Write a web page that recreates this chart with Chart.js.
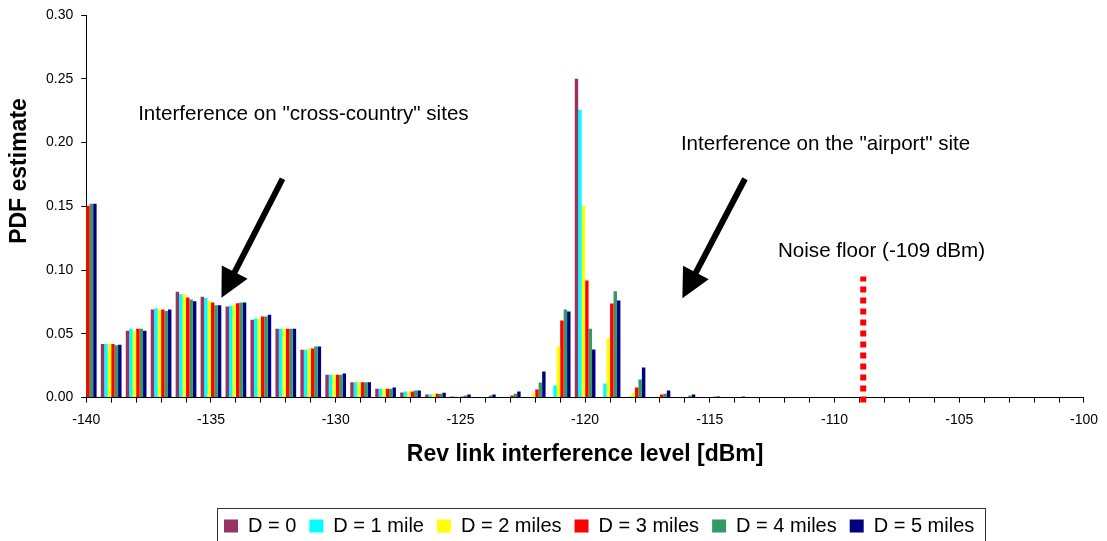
<!DOCTYPE html>
<html>
<head>
<meta charset="utf-8">
<script src="https://cdn.jsdelivr.net/npm/chart.js@4/dist/chart.umd.min.js"></script>
<style>
  html, body { margin: 0; padding: 0; background: #fff; }
</style>
</head>
<body>
<canvas id="pdf-chart" width="1107" height="541"></canvas>
<script>
// interference level bins [dBm]
var levels = [-140, -139, -138, -137, -136, -135, -134, -133, -132, -131,
              -130, -129, -128, -127, -126, -125, -124, -123, -122, -121,
              -120, -119, -118, -117, -116, -115, -114, -113, -112, -111,
              -110, -109, -108, -107, -106, -105, -104, -103, -102, -101, -100];

var seriesNames = ["D = 0", "D = 1 mile", "D = 2 miles", "D = 3 miles", "D = 4 miles", "D = 5 miles"];
var seriesColors = ["#993366", "#00FFFF", "#FFFF00", "#FF0000", "#339966", "#000080"];

// PDF estimate per bin, one array per distance
var pdfD0 = [0.149, 0.042, 0.0525, 0.069, 0.083, 0.079, 0.0715, 0.061, 0.054, 0.0375,
             0.018, 0.012, 0.007, 0.004, 0.0024, 0.0008, 0, 0, 0, 0,
             0.250, 0, 0, 0, 0, 0, 0, 0, 0, 0, 0, 0, 0, 0, 0, 0, 0, 0, 0, 0, 0];
var pdfD1 = [0.150, 0.042, 0.054, 0.070, 0.081, 0.078, 0.072, 0.062, 0.054, 0.0375,
             0.018, 0.012, 0.007, 0.0047, 0.0024, 0.0008, 0, 0, 0, 0.0094,
             0.2257, 0.011, 0.0008, 0, 0, 0, 0, 0, 0, 0, 0, 0, 0, 0, 0, 0, 0, 0, 0, 0, 0];
var pdfD2 = [0.150, 0.042, 0.0525, 0.069, 0.081, 0.076, 0.073, 0.062, 0.054, 0.0385,
             0.018, 0.012, 0.007, 0.0047, 0.0031, 0.0005, 0, 0.0008, 0.0031, 0.040,
             0.1505, 0.0466, 0.0039, 0.0008, 0, 0, 0, 0, 0, 0, 0, 0, 0, 0, 0, 0, 0, 0, 0, 0, 0];
var pdfD3 = [0.1505, 0.042, 0.054, 0.069, 0.0785, 0.0745, 0.074, 0.0635, 0.054, 0.0385,
             0.018, 0.012, 0.007, 0.0047, 0.0031, 0.0008, 0, 0.0016, 0.0063, 0.0605,
             0.0918, 0.0738, 0.0079, 0.0024, 0, 0, 0, 0, 0, 0, 0, 0, 0, 0, 0, 0, 0, 0, 0, 0, 0];
var pdfD4 = [0.152, 0.041, 0.054, 0.068, 0.077, 0.0725, 0.0745, 0.0635, 0.054, 0.040,
             0.018, 0.012, 0.007, 0.0055, 0.0031, 0.0016, 0.0016, 0.0031, 0.0118, 0.069,
             0.054, 0.0833, 0.0141, 0.0031, 0.0016, 0.0008, 0, 0, 0, 0, 0, 0, 0, 0, 0, 0, 0, 0, 0, 0, 0];
var pdfD5 = [0.152, 0.0415, 0.0525, 0.069, 0.0755, 0.0725, 0.0745, 0.065, 0.054, 0.040,
             0.0188, 0.012, 0.008, 0.0055, 0.0039, 0.0024, 0.0024, 0.0047, 0.0204, 0.0675,
             0.0377, 0.0762, 0.0236, 0.0055, 0.0024, 0.0008, 0.0008, 0, 0, 0, 0, 0, 0, 0, 0, 0, 0, 0, 0, 0, 0];
var pdfSeries = [pdfD0, pdfD1, pdfD2, pdfD3, pdfD4, pdfD5];

// noise floor marker (drawn slightly right of the -109 tick, as in the original)
var noiseMarkX = -108.85;
var noiseMarkTop = 0.095;

// text notes (left x in dBm, baseline in PDF units)
var noteTexts = ['Interference on "cross-country" sites', 'Interference on the "airport" site', 'Noise floor (-109 dBm)'];
var noteX = [-137.92, -116.16, -112.27];
var noteY = [0.2178, 0.194, 0.110];

// arrows: tail -> tip
var arrowTailX = [-132.13, -113.59];
var arrowTailY = [0.1716, 0.1716];
var arrowTipX = [-134.58, -116.10];
var arrowTipY = [0.0782, 0.0779];

var yTitle = 'PDF estimate';
var fontFamily = 'Arial, "Liberation Sans", sans-serif';

document.addEventListener('DOMContentLoaded', function() {
  pdfChart();
});

function drawArrow(ctx, x1, y1, x2, y2) {
  var dx = x2 - x1, dy = y2 - y1;
  var len = Math.sqrt(dx * dx + dy * dy);
  var ux = dx / len, uy = dy / len;
  var headLen = 29, headHalf = 14.5;
  var bx = x2 - ux * headLen, by = y2 - uy * headLen;
  ctx.lineWidth = 6;
  ctx.strokeStyle = '#000';
  ctx.beginPath();
  ctx.moveTo(x1, y1);
  ctx.lineTo(bx + ux * 2, by + uy * 2);
  ctx.stroke();
  ctx.fillStyle = '#000';
  ctx.beginPath();
  ctx.moveTo(x2, y2);
  ctx.lineTo(bx - uy * headHalf, by + ux * headHalf);
  ctx.lineTo(bx + uy * headHalf, by - ux * headHalf);
  ctx.closePath();
  ctx.fill();
}

var annotations = {
  id: 'annotations',
  afterLayout: function(chart) {
    // legend sits right of centre and a little lower in the original
    var lg = chart.legend;
    var pad = lg.options.labels.padding;
    var start = (lg.left + pad + lg.right - lg.lineWidths[0]) / 2;
    var shift = 224 - start;
    lg.left += shift; lg.right += shift;
    lg.top += 5; lg.bottom += 5;
  },
  afterDatasetsDraw: function(chart) {
    var ctx = chart.ctx, xs = chart.scales.x, ys = chart.scales.y;
    ctx.save();

    // red dotted noise floor line
    var nx = xs.getPixelForValue(noiseMarkX);
    ctx.strokeStyle = '#FF0000';
    ctx.lineWidth = 6;
    ctx.setLineDash([6, 5]);
    ctx.beginPath();
    ctx.moveTo(nx, ys.getPixelForValue(0) + 5);
    ctx.lineTo(nx, ys.getPixelForValue(noiseMarkTop));
    ctx.stroke();
    ctx.setLineDash([]);

    for (var i = 0; i < arrowTailX.length; i++) {
      drawArrow(ctx, xs.getPixelForValue(arrowTailX[i]), ys.getPixelForValue(arrowTailY[i]),
                xs.getPixelForValue(arrowTipX[i]), ys.getPixelForValue(arrowTipY[i]));
    }

    ctx.fillStyle = '#000';
    ctx.font = '20.6px ' + fontFamily;
    ctx.textAlign = 'left';
    ctx.textBaseline = 'alphabetic';
    for (var j = 0; j < noteTexts.length; j++) {
      ctx.fillText(noteTexts[j], xs.getPixelForValue(noteX[j]), ys.getPixelForValue(noteY[j]));
    }

    // y axis title, placed a bit above the plot's middle like the original
    ctx.translate(20, 171);
    ctx.rotate(-Math.PI / 2);
    ctx.font = 'bold 23px ' + fontFamily;
    ctx.textAlign = 'center';
    ctx.textBaseline = 'middle';
    ctx.fillText(yTitle, 0, 0);
    ctx.restore();
  },
  afterDraw: function(chart) {
    // frame around the legend items
    var boxes = chart.legend.legendHitBoxes;
    if (!boxes || !boxes.length) return;
    var left = boxes[0].left, right = 0, mid = boxes[0].top + boxes[0].height / 2;
    boxes.forEach(function(b) {
      left = Math.min(left, b.left);
      right = Math.max(right, b.left + b.width);
    });
    var ctx = chart.ctx;
    ctx.save();
    ctx.strokeStyle = '#333';
    ctx.lineWidth = 1;
    ctx.strokeRect(Math.round(left - 7) + 0.5, Math.round(mid - 18) + 0.5, Math.round(right - left + 18), 33);
    ctx.restore();
  }
};

function pdfChart() {
  Chart.defaults.font.family = fontFamily;
  Chart.defaults.color = '#000';

  var datasets = seriesNames.map(function(name, k) {
    return {
      label: name,
      data: levels.map(function(lv, i) { return { x: lv, y: pdfSeries[k][i] }; }),
      backgroundColor: seriesColors[k],
      borderWidth: 0,
      categoryPercentage: 0.83,
      barPercentage: 1.0,
      clip: 0
    };
  });

  var ctx = document.getElementById('pdf-chart').getContext('2d');
  window.myPdf = new Chart(ctx, {
    type: 'bar',
    data: { datasets: datasets },
    options: {
      responsive: false,
      animation: false,
      layout: { padding: { left: 38, right: 20, top: 12, bottom: 0 } },
      plugins: {
        tooltip: { enabled: false },
        legend: {
          position: 'bottom',
          labels: {
            boxWidth: 14,
            boxHeight: 13,
            padding: 13,
            color: '#000',
            font: { size: 20, lineHeight: 0.6 }
          }
        }
      },
      scales: {
        x: {
          type: 'linear',
          min: -140,
          max: -100,
          offset: false,
          grid: { offset: false, drawOnChartArea: false, drawTicks: true, tickLength: 5, color: '#000' },
          border: { display: true, color: '#000', width: 1 },
          ticks: {
            stepSize: 1,
            maxTicksLimit: 60,
            autoSkip: false,
            maxRotation: 0,
            padding: 9,
            font: { size: 14 },
            callback: function(v) { return v % 5 === 0 ? String(v) : ''; }
          },
          title: {
            display: true,
            text: 'Rev link interference level [dBm]',
            font: { size: 23, weight: 'bold' },
            padding: { top: 3, bottom: 30 }
          }
        },
        y: {
          min: 0,
          max: 0.3,
          grid: { drawOnChartArea: false, drawTicks: true, tickLength: 5, color: '#000' },
          border: { display: true, color: '#000', width: 1 },
          ticks: {
            stepSize: 0.05,
            padding: 8,
            font: { size: 14, lineHeight: 1.0 },
            callback: function(v) { return v.toFixed(2); }
          }
        }
      }
    },
    plugins: [annotations]
  });
}
</script>
</body>
</html>
